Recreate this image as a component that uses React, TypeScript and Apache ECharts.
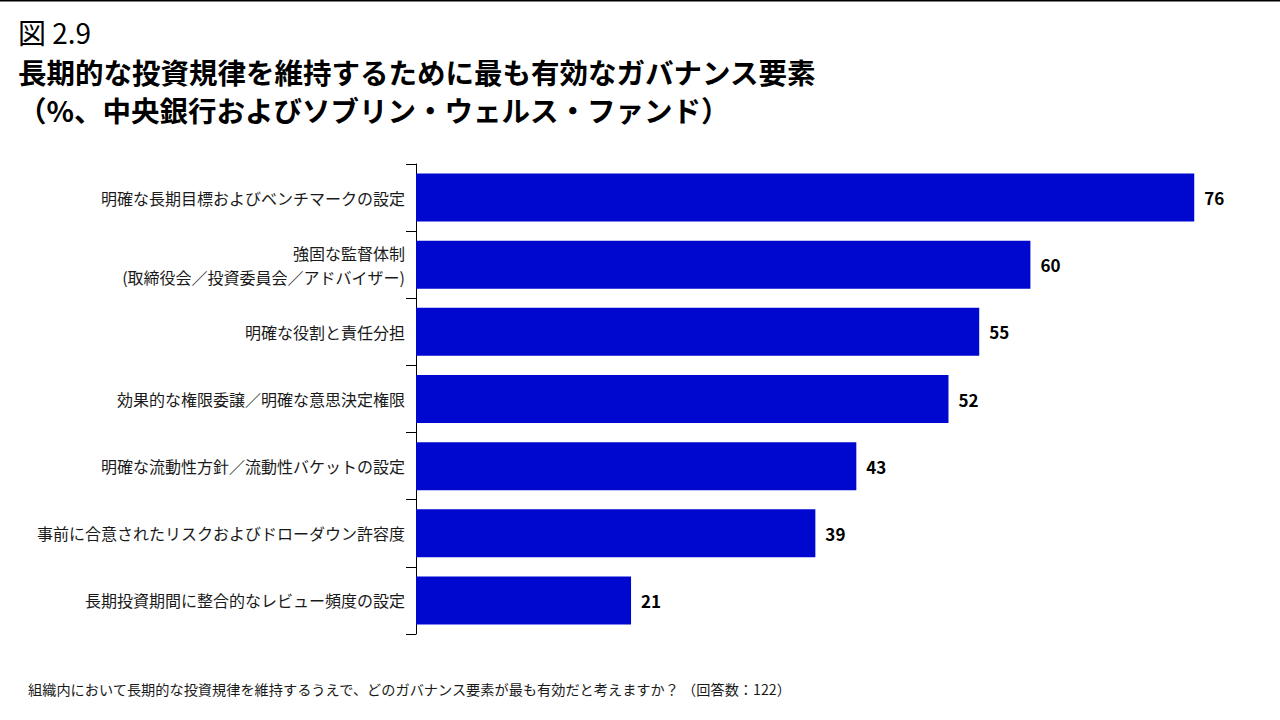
import React, { useEffect, useRef } from "react";
import * as echarts from "echarts";

const categories: string[] = [
  "明確な長期目標およびベンチマークの設定",
  "強固な監督体制\n(取締役会／投資委員会／アドバイザー)",
  "明確な役割と責任分担",
  "効果的な権限委譲／明確な意思決定権限",
  "明確な流動性方針／流動性バケットの設定",
  "事前に合意されたリスクおよびドローダウン許容度",
  "長期投資期間に整合的なレビュー頻度の設定",
];
const values: number[] = [76, 60, 55, 52, 43, 39, 21];

const figLabel = "図 2.9";
const titleLine1 = "長期的な投資規律を維持するために最も有効なガバナンス要素";
const titleLine2 = "（%、中央銀行およびソブリン・ウェルス・ファンド）";
const footnote =
  "組織内において長期的な投資規律を維持するうえで、どのガバナンス要素が最も有効だと考えますか？ （回答数：122）";

const FONT = "'Noto Sans CJK JP', 'Noto Sans', sans-serif";

export default function App() {
  const ref = useRef<HTMLDivElement>(null);
  useEffect(() => {
    if (!ref.current) return;
    const chart = echarts.init(ref.current, undefined, { renderer: "svg" });
    chart.setOption({
      animation: false,
      backgroundColor: "#ffffff",
      textStyle: { fontFamily: FONT },
      grid: { left: 416, top: 164, width: 819.2, height: 470, containLabel: false },
      xAxis: {
        type: "value",
        min: 0,
        max: 80,
        show: false,
      },
      yAxis: {
        type: "category",
        data: categories,
        inverse: true,
        axisLine: { show: true, lineStyle: { color: "#000000", width: 1 } },
        axisTick: { show: true, length: 10, lineStyle: { color: "#000000", width: 1 } },
        axisLabel: {
          margin: 11,
          fontSize: 16,
          color: "#1a1a1a",
          fontFamily: FONT,
          lineHeight: 24,
          align: "right",
        },
        splitLine: { show: false },
      },
      series: [
        {
          type: "bar",
          data: values,
          barWidth: 48,
          itemStyle: { color: "#0008D0" },
          label: {
            show: true,
            position: "right",
            distance: 10,
            fontSize: 17,
            fontWeight: "bold",
            color: "#000000",
            fontFamily: FONT,
          },
        },
      ],
      graphic: [
        {
          type: "line",
          shape: { x1: 0, y1: 0.75, x2: 1280, y2: 0.75 },
          style: { stroke: "#000000", lineWidth: 1.5 },
        },
        {
          type: "text",
          x: 18,
          y: 32,
          style: {
            text: figLabel,
            fontSize: 28,
            lineHeight: 30,
            fontFamily: FONT,
            fill: "#000000",
            verticalAlign: "middle",
          },
        },
        {
          type: "text",
          x: 18,
          y: 71,
          style: {
            text: titleLine1,
            fontSize: 28.5,
            lineHeight: 32,
            fontWeight: "bold",
            fontFamily: FONT,
            fill: "#000000",
            verticalAlign: "middle",
          },
        },
        {
          type: "text",
          x: 18,
          y: 109.5,
          style: {
            text: titleLine2,
            fontSize: 28.5,
            lineHeight: 32,
            fontWeight: "bold",
            fontFamily: FONT,
            fill: "#000000",
            verticalAlign: "middle",
          },
        },
        {
          type: "text",
          x: 28,
          y: 689,
          style: {
            text: footnote,
            fontSize: 14.2,
            fontFamily: FONT,
            fill: "#1a1a1a",
            verticalAlign: "middle",
          },
        },
      ],
    });
    return () => chart.dispose();
  }, []);
  return (
    <div
      ref={ref}
      style={{ position: "fixed", left: 0, top: 0, width: 1280, height: 720, background: "#fff" }}
    />
  );
}
